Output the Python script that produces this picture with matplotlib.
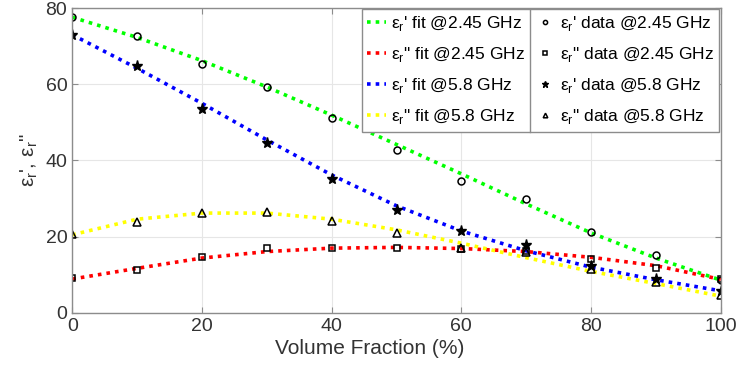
import matplotlib.pyplot as plt
from matplotlib.lines import Line2D

plt.rcParams['font.family'] = ['Liberation Sans', 'DejaVu Sans']
plt.rcParams['mathtext.fontset'] = 'custom'
plt.rcParams['mathtext.rm'] = 'Liberation Sans'

# volume fraction (%)
vf = [0, 10, 20, 30, 40, 50, 60, 70, 80, 90, 100]

# measured data
e1_245 = [77.6, 72.7, 65.4, 59.3, 51.2, 42.7, 34.7, 30.0, 21.2, 15.3, 8.7]
e2_245 = [9.2, 11.3, 14.7, 17.1, 17.1, 17.1, 16.8, 16.3, 14.2, 11.8, 8.9]
e1_58 = [73.0, 64.8, 53.6, 44.6, 35.1, 27.1, 21.4, 17.7, 12.4, 8.8, 5.8]
e2_58 = [20.6, 23.8, 26.1, 26.6, 24.1, 21.0, 17.0, 16.0, 11.5, 8.2, 4.8]

# fitted curves
fit_e1_245 = [77.6, 72.3, 66.2, 59.3, 51.9, 44.2, 36.5, 28.6, 21.0, 14.4, 8.6]
fit_e2_245 = [8.9, 11.7, 14.4, 16.1, 17.0, 17.2, 16.9, 16.1, 14.6, 12.4, 8.8]
fit_e1_58 = [73.0, 64.2, 55.0, 45.4, 36.2, 28.1, 21.5, 16.3, 12.0, 8.7, 5.8]
fit_e2_58 = [20.5, 24.6, 26.2, 26.2, 24.6, 21.8, 18.3, 14.5, 10.9, 7.7, 4.4]

fig = plt.figure(figsize=(7.37, 3.66), dpi=100)
ax = fig.add_axes([0.098, 0.145, 0.880, 0.833])

dots = (0, (1, 1.4))
lw = 2.6
l1, = ax.plot(vf, fit_e1_245, color='#00ff00', ls=dots, lw=lw)
l2, = ax.plot(vf, fit_e2_245, color='#ff0000', ls=dots, lw=lw)
l3, = ax.plot(vf, fit_e1_58, color='#0000ff', ls=dots, lw=lw)
l4, = ax.plot(vf, fit_e2_58, color='#ffff00', ls=dots, lw=lw)

m1, = ax.plot(vf, e1_245, 'o', mfc='none', mec='black', ms=5, mew=1.1)
m2, = ax.plot(vf, e2_245, 's', mfc='none', mec='black', ms=4.5, mew=1.1)
m3, = ax.plot(vf, e1_58, '*', color='black', ms=8)
m4, = ax.plot(vf, e2_58, '^', mfc='none', mec='black', ms=5.5, mew=1.1)

ax.set_xlim(0, 100)
ax.set_ylim(0, 80)
ax.set_xticks(range(0, 101, 20))
ax.set_yticks(range(0, 81, 20))
ax.grid(True, color='#e6e6e6', lw=0.8)
ax.set_axisbelow(True)
for s in ax.spines.values():
    s.set_color('#8c8c8c')
    s.set_linewidth(1.0)
ax.tick_params(labelsize=14, labelcolor='#333333', color='#8c8c8c',
               direction='in', length=4, width=0.8)
ax.tick_params(top=True, right=True)

ax.set_xlabel('Volume Fraction (%)', fontsize=15, color='#333333', labelpad=0)
ax.xaxis.set_label_coords(0.458, -0.085, transform=ax.transAxes)
ax.set_ylabel('ε$_\\mathrm{r}$\', ε$_\\mathrm{r}$"', fontsize=15, color='#333333', labelpad=4)

handles = [l1, l2, l3, l4, m1, m2, m3, m4]
labels = ["ε$_\\mathrm{r}$' fit @2.45 GHz", 'ε$_\\mathrm{r}$" fit @2.45 GHz',
          "ε$_\\mathrm{r}$' fit @5.8 GHz", 'ε$_\\mathrm{r}$" fit @5.8 GHz',
          "ε$_\\mathrm{r}$' data @2.45 GHz", 'ε$_\\mathrm{r}$" data @2.45 GHz',
          "ε$_\\mathrm{r}$' data @5.8 GHz", 'ε$_\\mathrm{r}$" data @5.8 GHz']
leg = ax.legend(handles, labels, ncol=2, loc='upper right', fontsize=12.5,
                handlelength=1.1, handletextpad=0.3, columnspacing=0.6,
                labelspacing=0.7, borderpad=0.3, borderaxespad=0.0,
                fancybox=False, framealpha=1, edgecolor='#8c8c8c',
                markerscale=0.6, bbox_to_anchor=(0.998, 0.998))
leg.get_frame().set_linewidth(1.0)

# vertical divider between the two legend columns
fig.canvas.draw()
r = fig.canvas.get_renderer()
lb = leg.get_window_extent(r)
col1_right = max(t.get_window_extent(r).x1 for t in leg.get_texts()[:4])
xd = col1_right + 5
inv = fig.transFigure.inverted()
(x0, y0), (x1, y1) = inv.transform([(xd, lb.y0), (xd, lb.y1)])
fig.add_artist(Line2D([x0, x1], [y0, y1], color='#8c8c8c', lw=1.0))

fig.savefig('out.png', dpi=100)
